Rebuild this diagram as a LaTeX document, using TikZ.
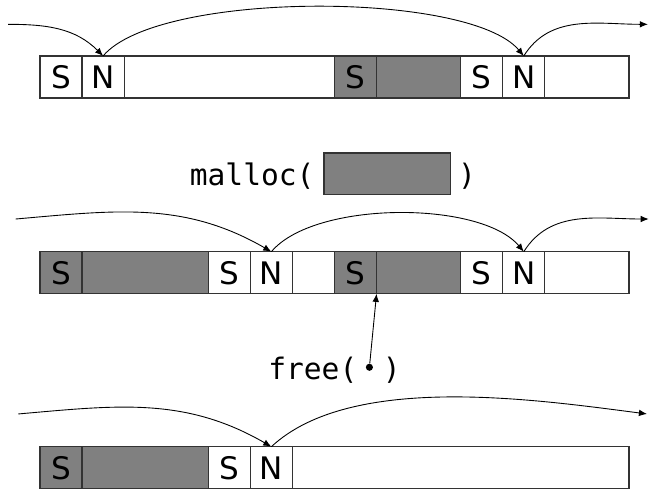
\documentclass[tikz,border=0pt]{standalone}
\usepackage{fontspec}
\newfontfamily\cellfont{DejaVu Sans}
\newfontfamily\codefont{DejaVu Sans Mono}
\usetikzlibrary{arrows.meta}
\tikzset{
  cell/.style={draw=black!80,line width=0.8pt,minimum height=1cm,minimum width=1cm,inner sep=0pt,outer sep=0pt,anchor=north west,font=\cellfont\fontsize{21}{25}\selectfont},
  used/.style={fill=black!50},
  link/.style={line width=0.6pt,-{Latex[length=5.5pt,width=4.5pt]}},
  code/.style={font=\codefont\fontsize{20}{24}\selectfont,inner sep=0pt}
}
\begin{document}
\begin{tikzpicture}
\useasboundingbox (-0.951,0) rectangle (14.524,-11.624);
% before
\node[cell] (s1a) at (0,-1.33) {S};
\node[cell] (n1a) at (1,-1.33) {N};
\node[cell,minimum width=5cm] (f1a) at (2,-1.33) {};
\node[cell,used] (s1b) at (7,-1.33) {S};
\node[cell,used,minimum width=2cm] (u1b) at (8,-1.33) {};
\node[cell] (s1c) at (10,-1.33) {S};
\node[cell] (n1c) at (11,-1.33) {N};
\node[cell,minimum width=2cm] (f1c) at (12,-1.33) {};
\coordinate (in1) at (-0.76,-0.578);
\coordinate (out1) at (14.45,-0.578);
\draw[link] (in1) to[out=0,in=135] (n1a.north);
\draw[link] (n1a.north) to[out=50,in=130,looseness=0.52] (n1c.north);
\draw[link] (n1c.north) to[out=58,in=180] (out1);
% malloc
\node[code,anchor=base west] (mallocl) at (3.555,-4.42) {malloc(};
\node[cell,used,anchor=center,minimum width=3cm,minimum height=0.98cm] (req) at (8.25,-4.125) {};
\node[code,anchor=base] (mallocr) at (10.15,-4.42) {)};
% after malloc
\node[cell,used] (s2a) at (0,-5.983) {S};
\node[cell,used,minimum width=3cm] (u2a) at (1,-5.983) {};
\node[cell] (s2b) at (4,-5.983) {S};
\node[cell] (n2b) at (5,-5.983) {N};
\node[cell] (f2b) at (6,-5.983) {};
\node[cell,used] (s2c) at (7,-5.983) {S};
\node[cell,used,minimum width=2cm] (u2c) at (8,-5.983) {};
\node[cell] (s2d) at (10,-5.983) {S};
\node[cell] (n2d) at (11,-5.983) {N};
\node[cell,minimum width=2cm] (f2d) at (12,-5.983) {};
\coordinate (in2) at (-0.578,-5.206);
\coordinate (out2) at (14.47,-5.206);
\draw[link] (in2) to[out=5,in=150] (n2b.north);
\draw[link] (n2b.north) to[out=50,in=130,looseness=0.68] (n2d.north);
\draw[link] (n2d.north) to[out=58,in=180] (out2);
% free
\node[code,anchor=base west] (freel) at (5.42,-9.016) {free(};
\node[circle,fill=black,inner sep=1.7pt] (ptr) at (7.83,-8.73) {};
\node[code,anchor=base] (freer) at (8.36,-9.016) {)};
\draw[link] (ptr) -- (u2c.south west);
% after free
\node[cell,used] (s3a) at (0,-10.618) {S};
\node[cell,used,minimum width=3cm] (u3a) at (1,-10.618) {};
\node[cell] (s3b) at (4,-10.618) {S};
\node[cell] (n3b) at (5,-10.618) {N};
\node[cell,minimum width=8cm] (f3b) at (6,-10.618) {};
\coordinate (in3) at (-0.516,-9.84);
\coordinate (out3) at (14.43,-9.84);
\draw[link] (in3) to[out=5,in=150] (n3b.north);
\draw[link] (n3b.north) .. controls (7.4,-8.85) and (11.8,-9.5) .. (out3);
\end{tikzpicture}
\end{document}
